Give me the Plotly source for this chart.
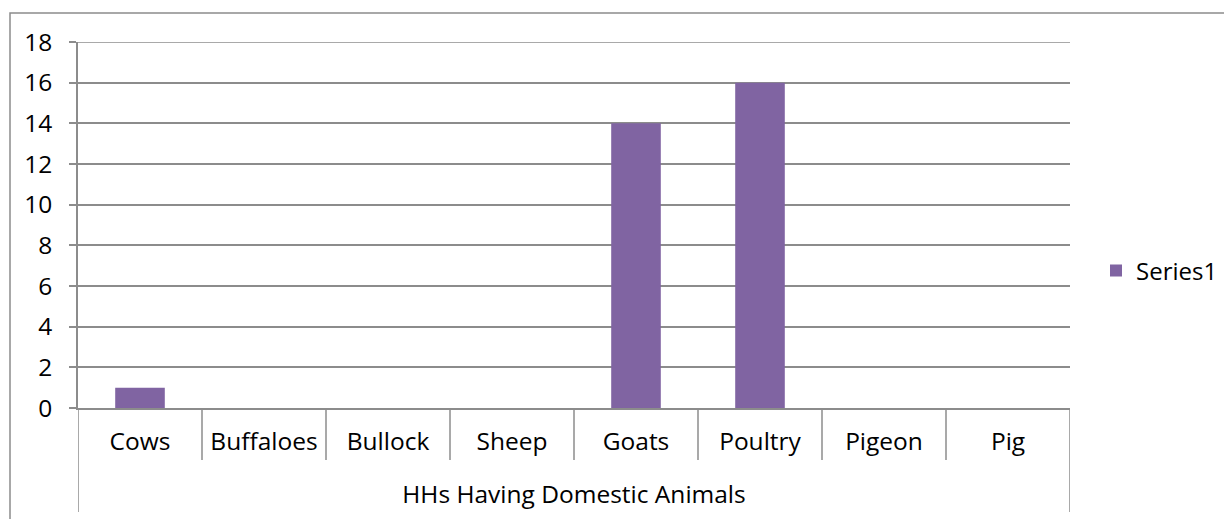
import plotly.graph_objects as go

# Households having each kind of domestic animal
categories = ["Cows", "Buffaloes", "Bullock", "Sheep", "Goats", "Poultry", "Pigeon", "Pig"]
series1 = [1, 0, 0, 0, 14, 16, 0, 0]
y_ticks = [0, 2, 4, 6, 8, 10, 12, 14, 16, 18]
group_label = "HHs Having Domestic Animals"

FONT = "Open Sans"
FS = 24.5
GRID = "#8c8c8c"
W, H = 1224, 519
L, R, T, B = 78, 154, 42, 111
plot_w = W - L - R
plot_h = H - T - B


def px_x(px):
    return (px - L) / plot_w


def px_y(py):
    return (H - B - py) / plot_h


fig = go.Figure(
    go.Bar(
        x=categories,
        y=series1,
        name="Series1",
        marker=dict(color="#8064A2", line=dict(width=0)),
        width=0.4,
    )
)

shapes = []
# Outer chart frame
shapes.append(dict(type="rect", xref="paper", yref="paper",
                   x0=px_x(10), x1=px_x(1240), y0=px_y(540), y1=px_y(13),
                   line=dict(color=GRID, width=1.5), fillcolor="rgba(0,0,0,0)", layer="below"))
# Top gridline at the axis maximum
shapes.append(dict(type="line", xref="paper", yref="y",
                   x0=px_x(71), x1=1, y0=y_ticks[-1], y1=y_ticks[-1],
                   line=dict(color=GRID, width=1.5)))
# Category separators below the axis
n = len(categories)
for i in range(n + 1):
    pos = i - 0.5
    outer = i in (0, n)
    shapes.append(dict(type="line", xref="x", yref="paper",
                       x0=pos, x1=pos, y0=0, y1=px_y(512 if outer else 460),
                       line=dict(color=GRID, width=1.5)))

fig.update_layout(
    width=W, height=H,
    margin=dict(l=L, r=R, t=T, b=B, autoexpand=False),
    paper_bgcolor="white", plot_bgcolor="white",
    font=dict(family=FONT, size=FS, color="#000000"),
    showlegend=True,
    legend=dict(xref="container", yref="container",
                x=1096 / W, y=(H - 271) / H, xanchor="left", yanchor="middle",
                font=dict(family=FONT, size=24), itemwidth=30,
                bgcolor="rgba(0,0,0,0)"),
    shapes=shapes,
    xaxis=dict(
        type="category", range=[-0.5, n - 0.5],
        showgrid=False, showline=True, linecolor=GRID, linewidth=1.5,
        ticks="", ticklabelstandoff=11,
        tickfont=dict(family=FONT, size=FS),
        title=dict(text=group_label, standoff=30, font=dict(family=FONT, size=FS)),
        automargin=False,
        fixedrange=True,
    ),
    yaxis=dict(
        range=[0, 18], tickvals=y_ticks,
        showgrid=True, gridcolor=GRID, gridwidth=1.5,
        showline=True, linecolor=GRID, linewidth=1.5,
        ticks="outside", ticklen=7, tickcolor=GRID, tickwidth=1.5,
        ticklabelstandoff=12,
        tickfont=dict(family=FONT, size=FS),
        zeroline=False,
        automargin=False,
        fixedrange=True,
    ),
)

fig.write_html("out.html")
